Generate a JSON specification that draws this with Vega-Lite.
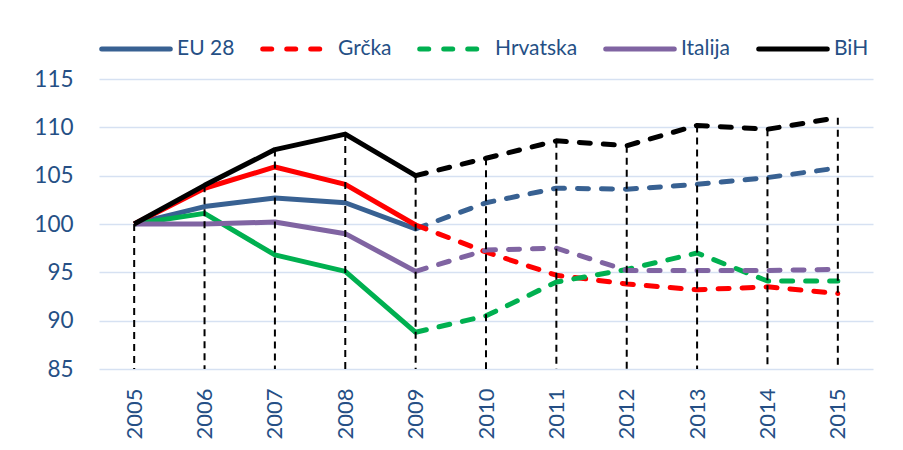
{
  "$schema": "https://vega.github.io/schema/vega-lite/v6.json",
  "autosize": {"type": "none"},
  "padding": {"left": 99, "top": 79, "right": 30, "bottom": 81},
  "width": 774,
  "height": 290,
  "background": "white",
  "config": {
    "font": "Lato, sans-serif",
    "view": {"stroke": null}
  },
  "data": {
    "values": [
      {"year": "2005", "series": "EU 28", "value": 100},
      {"year": "2006", "series": "EU 28", "value": 101.8},
      {"year": "2007", "series": "EU 28", "value": 102.7},
      {"year": "2008", "series": "EU 28", "value": 102.2},
      {"year": "2009", "series": "EU 28", "value": 99.5},
      {"year": "2010", "series": "EU 28", "value": 102.2},
      {"year": "2011", "series": "EU 28", "value": 103.7},
      {"year": "2012", "series": "EU 28", "value": 103.6},
      {"year": "2013", "series": "EU 28", "value": 104.1},
      {"year": "2014", "series": "EU 28", "value": 104.8},
      {"year": "2015", "series": "EU 28", "value": 105.8},
      {"year": "2005", "series": "Grčka", "value": 100},
      {"year": "2006", "series": "Grčka", "value": 103.7},
      {"year": "2007", "series": "Grčka", "value": 105.9},
      {"year": "2008", "series": "Grčka", "value": 104.1},
      {"year": "2009", "series": "Grčka", "value": 99.9},
      {"year": "2010", "series": "Grčka", "value": 97.1},
      {"year": "2011", "series": "Grčka", "value": 94.7},
      {"year": "2012", "series": "Grčka", "value": 93.8},
      {"year": "2013", "series": "Grčka", "value": 93.2},
      {"year": "2014", "series": "Grčka", "value": 93.5},
      {"year": "2015", "series": "Grčka", "value": 92.8},
      {"year": "2005", "series": "Hrvatska", "value": 100},
      {"year": "2006", "series": "Hrvatska", "value": 101.1},
      {"year": "2007", "series": "Hrvatska", "value": 96.8},
      {"year": "2008", "series": "Hrvatska", "value": 95.1},
      {"year": "2009", "series": "Hrvatska", "value": 88.8},
      {"year": "2010", "series": "Hrvatska", "value": 90.5},
      {"year": "2011", "series": "Hrvatska", "value": 94.0},
      {"year": "2012", "series": "Hrvatska", "value": 95.3},
      {"year": "2013", "series": "Hrvatska", "value": 97.0},
      {"year": "2014", "series": "Hrvatska", "value": 94.1},
      {"year": "2015", "series": "Hrvatska", "value": 94.1},
      {"year": "2005", "series": "Italija", "value": 100},
      {"year": "2006", "series": "Italija", "value": 100.0},
      {"year": "2007", "series": "Italija", "value": 100.2},
      {"year": "2008", "series": "Italija", "value": 99.0},
      {"year": "2009", "series": "Italija", "value": 95.1},
      {"year": "2010", "series": "Italija", "value": 97.3},
      {"year": "2011", "series": "Italija", "value": 97.5},
      {"year": "2012", "series": "Italija", "value": 95.2},
      {"year": "2013", "series": "Italija", "value": 95.2},
      {"year": "2014", "series": "Italija", "value": 95.2},
      {"year": "2015", "series": "Italija", "value": 95.3},
      {"year": "2005", "series": "BiH", "value": 100},
      {"year": "2006", "series": "BiH", "value": 104.0},
      {"year": "2007", "series": "BiH", "value": 107.7},
      {"year": "2008", "series": "BiH", "value": 109.3},
      {"year": "2009", "series": "BiH", "value": 105.0},
      {"year": "2010", "series": "BiH", "value": 106.8},
      {"year": "2011", "series": "BiH", "value": 108.6},
      {"year": "2012", "series": "BiH", "value": 108.1},
      {"year": "2013", "series": "BiH", "value": 110.2},
      {"year": "2014", "series": "BiH", "value": 109.8},
      {"year": "2015", "series": "BiH", "value": 111.0}
    ]
  },
  "encoding": {
    "x": {
      "field": "year",
      "type": "ordinal",
      "scale": {"type": "point", "padding": 0.5},
      "axis": {
        "title": null,
        "labelAngle": -90,
        "labelAlign": "right",
        "labelBaseline": "middle",
        "labelPadding": 19,
        "labelFontSize": 22,
        "labelColor": "#254F85",
        "ticks": false,
        "domain": false,
        "grid": false
      }
    },
    "y": {
      "field": "value",
      "type": "quantitative",
      "scale": {"domain": [85, 115], "nice": false, "zero": false},
      "axis": {
        "title": null,
        "values": [85, 90, 95, 100, 105, 110, 115],
        "labelFontSize": 22.5,
        "labelColor": "#254F85",
        "labelPadding": 26,
        "ticks": false,
        "domain": false,
        "grid": true,
        "gridColor": "#D6E1F2",
        "gridWidth": 1.5
      }
    }
  },
  "layer": [
    {
      "transform": [{"filter": "datum.year == '2005'"}],
      "mark": {"type": "line", "strokeWidth": 5},
      "encoding": {
        "color": {
          "field": "series",
          "type": "nominal",
          "scale": {
            "domain": ["EU 28", "Grčka", "Hrvatska", "Italija", "BiH"],
            "range": ["#386192", "#FF0000", "#00B050", "#8064A2", "#000000"]
          },
          "legend": {
            "title": null,
            "orient": "top",
            "direction": "horizontal",
            "offset": 20,
            "symbolType": "stroke",
            "symbolSize": 4700,
            "symbolStrokeWidth": 5,
            "labelFontSize": 21,
            "labelColor": "#254F85",
            "labelOffset": 4,
            "columnPadding": 17,
            "encode": {"symbols": {"update": {"strokeCap": {"value": "round"}}}}
          }
        },
        "strokeDash": {
          "field": "series",
          "type": "nominal",
          "scale": {
            "domain": ["EU 28", "Grčka", "Hrvatska", "Italija", "BiH"],
            "range": [[1, 0], [9, 15], [9, 15], [1, 0], [1, 0]]
          },
          "legend": {
            "title": null,
            "orient": "top",
            "direction": "horizontal",
            "offset": 20,
            "symbolType": "stroke",
            "symbolSize": 4700,
            "symbolStrokeWidth": 5,
            "labelFontSize": 21,
            "labelColor": "#254F85",
            "labelOffset": 4,
            "columnPadding": 17,
            "encode": {"symbols": {"update": {"strokeCap": {"value": "round"}}}}
          }
        }
      }
    },
    {
      "transform": [{"filter": "datum.year <= '2009'"}],
      "mark": {"type": "line", "strokeWidth": 5, "strokeJoin": "round"},
      "encoding": {
        "color": {"field": "series", "type": "nominal"},
        "detail": {"field": "series"}
      }
    },
    {
      "transform": [{"filter": "datum.year >= '2009'"}],
      "mark": {"type": "line", "strokeWidth": 5, "strokeCap": "round", "strokeJoin": "round", "strokeDash": [11, 13]},
      "encoding": {
        "color": {"field": "series", "type": "nominal"},
        "detail": {"field": "series"}
      }
    },
    {
      "transform": [{"filter": "datum.series == 'BiH'"}],
      "mark": {"type": "rule", "color": "#000000", "strokeWidth": 2, "strokeDash": [7, 5]},
      "encoding": {
        "y2": {"datum": 85}
      }
    }
  ]
}
